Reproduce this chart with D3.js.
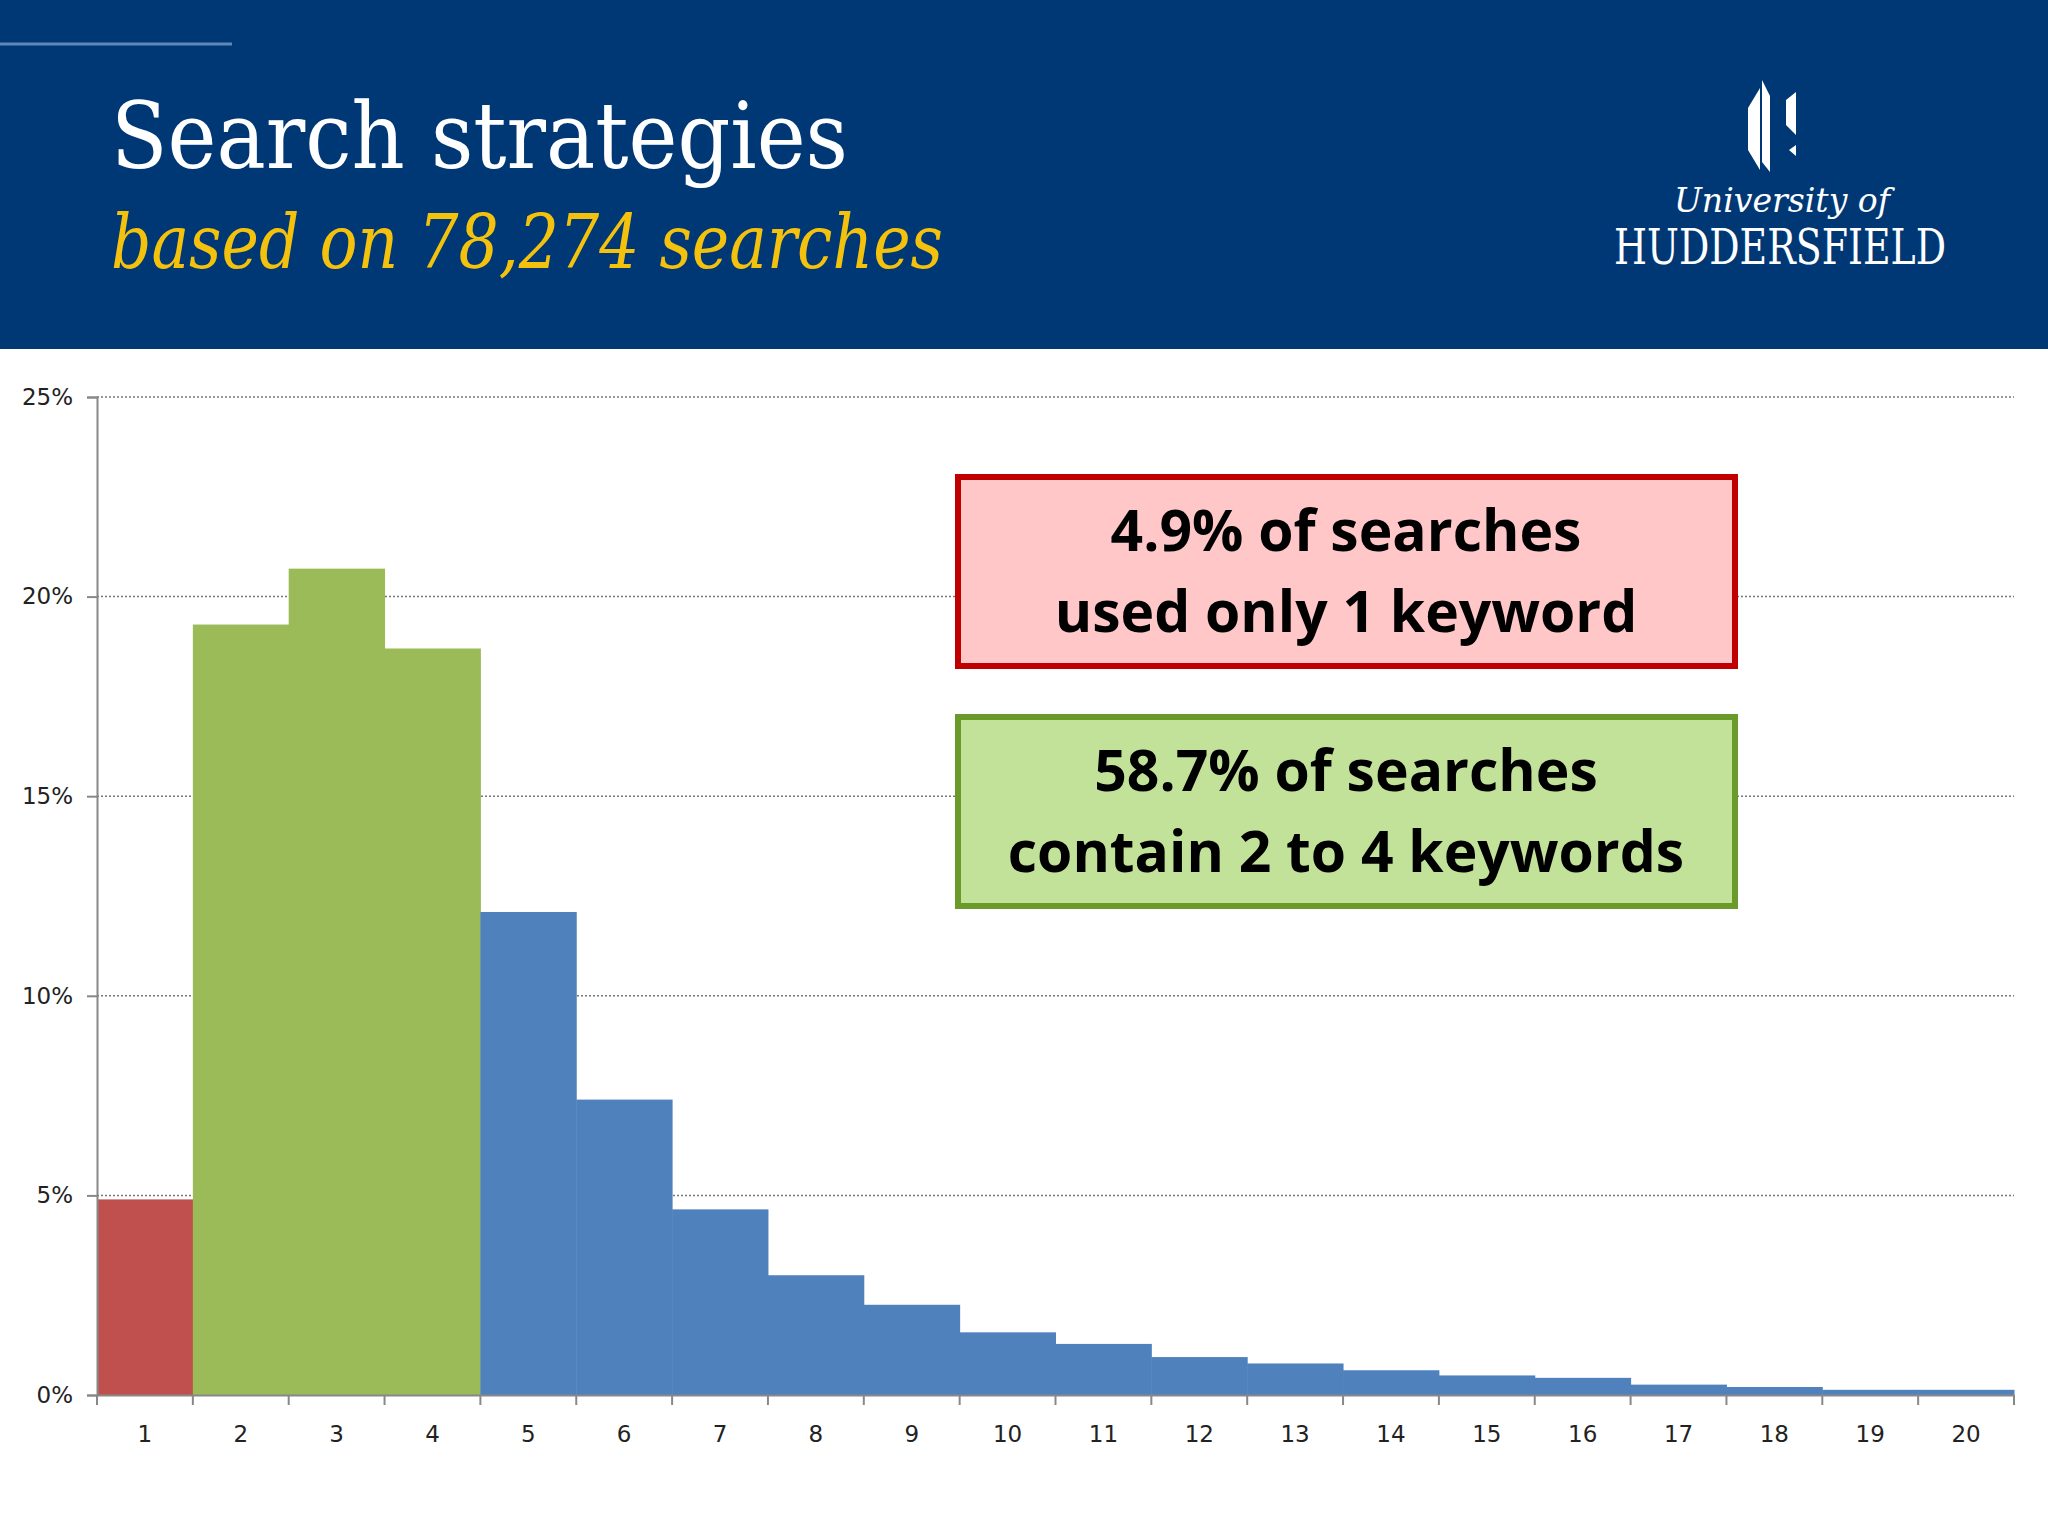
<!DOCTYPE html>
<html><head><meta charset="utf-8">
<script src="https://cdn.jsdelivr.net/npm/d3@7"></script>
<style>body{margin:0;background:#fff}</style>
</head><body>
<script>
// keyword counts and share of searches (%)
let keywords = d3.range(1, 21)
let shares = [4.9, 19.3, 20.7, 18.7, 12.1, 7.4, 4.65, 3.0, 2.26, 1.57, 1.28, 0.95, 0.79, 0.62, 0.49, 0.43, 0.26, 0.2, 0.13, 0.13]
let yTicks = [0, 5, 10, 15, 20, 25]

function main(){
    let W = 2048, H = 1536
    let svg = d3.select('body').append('svg').attr('width', W).attr('height', H)

    // header band
    svg.append('rect').attr('width', W).attr('height', 349).attr('fill', '#003876')
    svg.append('line').attr('x1', 0).attr('x2', 232).attr('y1', 44).attr('y2', 44)
        .attr('stroke', '#5f86b8').attr('stroke-width', 3)
    svg.append('text').attr('x', 111).attr('y', 168).text('Search strategies')
        .attr('textLength', 737).attr('lengthAdjust', 'spacingAndGlyphs')
        .attr('fill', '#fff').attr('font-family', 'DejaVu Serif').attr('font-size', 92)
    svg.append('text').attr('x', 111).attr('y', 268).text('based on 78,274 searches')
        .attr('textLength', 832).attr('lengthAdjust', 'spacingAndGlyphs')
        .attr('fill', '#f4c20d').attr('font-family', 'DejaVu Serif').attr('font-style', 'italic').attr('font-size', 74)

    // logo
    let logo = svg.append('g').attr('fill', '#fff')
    logo.append('path').attr('d', 'M1748,108 L1760,88 L1760,170 L1748,150 Z')
    logo.append('path').attr('d', 'M1762,80 L1770,96 L1770,172 L1762,162 Z')
    logo.append('path').attr('d', 'M1786,100 L1796,92 L1796,135 L1786,125 Z')
    logo.append('path').attr('d', 'M1789,150 L1796,145 L1796,156 Z')
    svg.append('text').attr('x', 1674).attr('y', 212).text('University of')
        .attr('textLength', 216).attr('lengthAdjust', 'spacingAndGlyphs')
        .attr('fill', '#fff').attr('font-family', 'DejaVu Serif').attr('font-style', 'italic').attr('font-size', 33)
    svg.append('text').attr('x', 1614).attr('y', 264).text('HUDDERSFIELD')
        .attr('textLength', 332).attr('lengthAdjust', 'spacingAndGlyphs')
        .attr('fill', '#fff').attr('font-family', 'DejaVu Serif').attr('font-size', 48)

    // chart
    let x = d3.scaleBand().domain(keywords).range([97, 2014]).padding(0)
    let y = d3.scaleLinear().domain([0, 25]).range([1395, 397])

    svg.append('g').selectAll('line').data(yTicks.slice(1)).enter().append('line')
        .attr('x1', 97).attr('x2', 2014).attr('y1', d => y(d)).attr('y2', d => y(d))
        .attr('stroke', '#777').attr('stroke-width', 1.5).attr('stroke-dasharray', '2,2')

    let color = d => d === 1 ? '#c0504d' : (d <= 4 ? '#9bbb59' : '#4f81bd')
    svg.append('g').selectAll('rect').data(keywords).enter().append('rect')
        .attr('x', d => x(d)).attr('width', x.bandwidth() + 0.5)
        .attr('y', (d, i) => y(shares[i])).attr('height', (d, i) => y(0) - y(shares[i]))
        .attr('fill', color)

    let yAxis = svg.append('g').attr('transform', 'translate(97,0)')
        .call(d3.axisLeft(y).tickValues(yTicks).tickFormat(d => d + '%').tickSize(10).tickPadding(14))
    let xAxis = svg.append('g').attr('transform', 'translate(0,1395)')
        .call(d3.axisBottom(x).tickSize(0))
    xAxis.selectAll('text').attr('dy', 44)
    xAxis.selectAll('.tk').data(d3.range(0, 21)).enter().append('line')
        .attr('x1', i => 97 + i * x.bandwidth()).attr('x2', i => 97 + i * x.bandwidth())
        .attr('y1', 0).attr('y2', 10)
    ;[yAxis, xAxis].forEach(a => {
        a.selectAll('path,line').attr('stroke', '#888').attr('stroke-width', 2)
        a.selectAll('text').attr('font-family', 'DejaVu Sans').attr('font-size', 23).attr('fill', '#222')
    })

    // annotation boxes
    let boxes = [
        {y: 477, fill: '#ffc7c7', stroke: '#c00000', lines: ['4.9% of searches', 'used only 1 keyword']},
        {y: 717, fill: '#c2e29a', stroke: '#6a9a2a', lines: ['58.7% of searches', 'contain 2 to 4 keywords']}
    ]
    boxes.forEach(b => {
        svg.append('rect').attr('x', 958).attr('y', b.y).attr('width', 777).attr('height', 189)
            .attr('fill', b.fill).attr('stroke', b.stroke).attr('stroke-width', 6)
        b.lines.forEach((t, i) => {
            svg.append('text').attr('x', 1346).attr('y', b.y + 74 + i * 81).attr('text-anchor', 'middle')
                .text(t).attr('font-family', 'Open Sans').attr('font-weight', 'bold').attr('font-size', 57).attr('fill', '#000')
        })
    })
}
main()
</script>
</body></html>
